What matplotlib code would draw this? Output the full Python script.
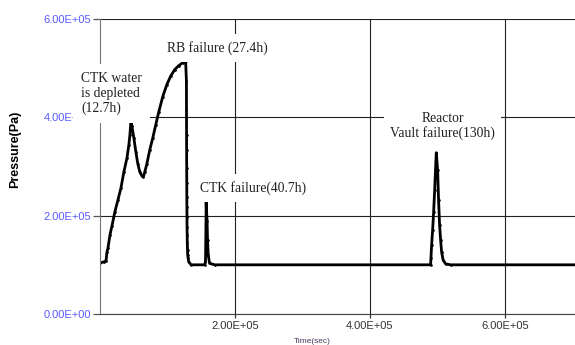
import matplotlib
matplotlib.use("Agg")
import matplotlib.pyplot as plt

# pressure history (time in s, pressure in Pa)
time_s = [
    0, 5900, 8900, 10300, 11800, 14800, 17700, 22100, 26600, 31000, 35400,
    39900, 42800, 44300, 45800,
    47200, 50200, 53100, 56100, 59000, 62000, 64200,
    66400, 69400, 73800, 78200, 82700, 87100, 93000, 98900, 104800, 110700,
    116600, 122500, 126900,
    128100, 128200, 128300, 128400, 128500, 128600, 128700, 128800, 128900,
    129000, 129200, 129400, 129700, 130000, 130500, 131500, 135000,
    155000, 156300, 156500, 156700, 156900, 157000, 157200, 157300,
    158700, 159400, 160400, 162400, 170000,
    490000, 490500, 491500, 493000, 494500, 496000, 497400, 498400,
    500400, 501800, 503300, 504800, 506300, 508500, 512200, 519600, 710000,
]
pressure_pa = [
    1.04e5, 1.06e5, 1.08e5, 1.26e5, 1.34e5, 1.61e5, 1.79e5, 2.08e5, 2.32e5, 2.56e5, 2.89e5,
    3.17e5, 3.44e5, 3.64e5, 3.91e5,
    3.83e5, 3.58e5, 3.30e5, 3.05e5, 2.89e5, 2.81e5, 2.79e5,
    2.89e5, 3.05e5, 3.34e5, 3.58e5, 3.85e5, 4.11e5, 4.42e5, 4.66e5, 4.84e5, 4.97e5,
    5.05e5, 5.11e5, 5.15e5,
    4.73e5, 4.15e5, 3.64e5, 3.34e5, 2.97e5, 2.67e5, 2.38e5, 2.18e5, 1.97e5,
    1.77e5, 1.61e5, 1.44e5, 1.30e5, 1.20e5, 1.14e5, 1.06e5, 1.00e5,
    1.00e5, 1.06e5, 1.20e5, 1.40e5, 1.60e5, 1.80e5, 2.00e5, 2.27e5,
    1.90e5, 1.50e5, 1.20e5, 1.03e5, 1.00e5,
    1.00e5, 1.14e5, 1.40e5, 1.71e5, 2.08e5, 2.52e5, 2.97e5, 3.28e5,
    2.93e5, 2.32e5, 1.81e5, 1.51e5, 1.26e5, 1.10e5, 1.02e5, 1.00e5, 1.00e5,
]

x_ticks = [2e5, 4e5, 6e5]
x_tick_labels = ["2.00E+05", "4.00E+05", "6.00E+05"]
y_ticks = [0, 2e5, 4e5, 6e5]
y_tick_labels = ["0.00E+00", "2.00E+05", "4.00E+05", "6.00E+05"]

events = ["CTK water\nis depleted\n(12.7h)", "RB failure (27.4h)",
          "CTK failure(40.7h)", "Reactor\nVault failure(130h)"]
event_x = [-28000, 98900, 147600, 507700]
event_y = [4.48e5, 5.41e5, 2.56e5, 3.82e5]

fig = plt.figure(figsize=(5.75, 3.45), dpi=100)
ax = fig.add_axes([0.1739, 0.0899, 0.8261, 0.8551])

ax.plot(time_s, pressure_pa, color="black", lw=2.0, marker=".", ms=3.8,
        markeredgewidth=0, zorder=2)

ax.set_xlim(0, 7.04e5)
ax.set_ylim(0, 6e5)
ax.set_xticks(x_ticks)
ax.set_xticklabels(x_tick_labels, fontsize=8, color="#333333", family="Liberation Sans")
ax.set_yticks(y_ticks)
ax.set_yticklabels(y_tick_labels, fontsize=8, color="#5a5aff", family="Liberation Sans")
ax.tick_params(axis="y", length=5, width=0.9, color="#555555", pad=1.5)
ax.tick_params(axis="x", length=3, width=0.9, color="#333333", pad=2)
ax.grid(True, color="#222222", lw=0.8)
ax.set_axisbelow(True)
for side in ["top", "right"]:
    ax.spines[side].set_visible(False)
ax.spines["left"].set_color("#777777")
ax.spines["bottom"].set_color("#444444")

ax.set_xlabel("Time(sec)", fontsize=6, color="#4a3a5a", family="Liberation Sans")
ax.xaxis.set_label_coords(0.448, -0.08)
ax.set_ylabel("Pressure(Pa)", fontsize=9, fontweight="bold", family="Liberation Sans")
ax.yaxis.set_label_coords(-0.165, 0.559)

ax.text(event_x[0], event_y[0], events[0], fontsize=9.8, family="Liberation Serif",
        color="#222222", ha="left", va="center", linespacing=1.18, zorder=5,
        bbox=dict(facecolor="white", edgecolor="none", boxstyle="square,pad=0.6"))
ax.text(event_x[1], event_y[1], events[1], fontsize=9.8, family="Liberation Serif",
        color="#222222", ha="left", va="center", zorder=5,
        bbox=dict(facecolor="white", edgecolor="none", pad=5))
ax.text(event_x[2], event_y[2], events[2], fontsize=9.8, family="Liberation Serif",
        color="#222222", ha="left", va="center", zorder=5,
        bbox=dict(facecolor="white", edgecolor="none", pad=5))
ax.text(event_x[3], event_y[3], events[3], fontsize=9.8, family="Liberation Serif",
        color="#222222", ha="center", va="center", linespacing=1.15, zorder=5,
        bbox=dict(facecolor="white", edgecolor="none", boxstyle="square,pad=0.45"))

fig.savefig("out.png", dpi=100)
